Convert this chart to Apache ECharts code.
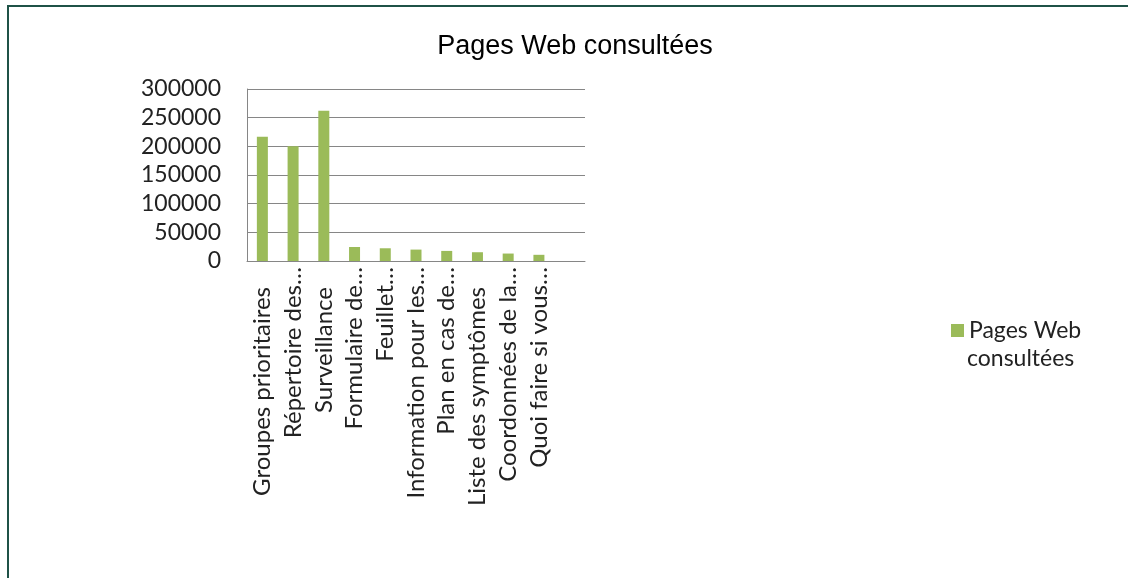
<!DOCTYPE html>
<html>
<head>
<meta charset="utf-8">
<script src="https://cdn.jsdelivr.net/npm/echarts@6/dist/echarts.min.js"></script>
<style>
html,body{margin:0;padding:0;background:#fff;}
#chart{width:1128px;height:578px;}
</style>
</head>
<body>
<div id="chart"></div>
<script>
var title = 'Pages Web consultées';
var seriesName = 'Pages Web consultées';
var legendLines = ['Pages Web', 'consultées'];
var categories = ['Groupes prioritaires', 'Répertoire des…', 'Surveillance', 'Formulaire de…', 'Feuillet…', 'Information pour les…', 'Plan en cas de…', 'Liste des symptômes', 'Coordonnées de la…', 'Quoi faire si vous…', ''];
var values = [216500, 200000, 262000, 24400, 22200, 19900, 17600, 15300, 13000, 10800, null];
var yTicks = {min: 0, max: 300000, interval: 50000};

var categoryItems = categories.map(function (c) {
  var full = c.length > 0 && c.indexOf('…') < 0;
  return full ? {value: c, textStyle: {padding: [0, 20, 0, 0]}} : c;
});

var chart = echarts.init(document.getElementById('chart'), null, {renderer: 'canvas'});
chart.setOption({
  animation: false,
  backgroundColor: '#ffffff',
  title: {
    text: title,
    left: 570, top: 28, textAlign: 'center',
    textStyle: {fontFamily: 'Liberation Sans', fontSize: 27, fontWeight: 'normal', color: '#000'}
  },
  graphic: [
    {type: 'line', shape: {x1: 8, y1: 6, x2: 8, y2: 578}, style: {stroke: '#1f5247', lineWidth: 2}},
    {type: 'line', shape: {x1: 7, y1: 6, x2: 1128, y2: 6}, style: {stroke: '#1f5247', lineWidth: 2}},
    {type: 'text', left: 967, top: 347, style: {text: legendLines[1], font: '23px Lato', fill: '#222'}}
  ],
  legend: {
    left: 946, top: 314, orient: 'vertical',
    itemWidth: 13, itemHeight: 13, icon: 'rect',
    formatter: function () { return legendLines[0]; },
    textStyle: {fontFamily: 'Lato', fontSize: 23, color: '#222', padding: [0,0,0,0]}
  },
  grid: {left: 247, right: 543, top: 89, bottom: 317, containLabel: false},
  xAxis: {
    type: 'category', data: categoryItems,
    axisLine: {show: true, lineStyle: {color: '#868686', width: 1}},
    axisTick: {show: false},
    axisLabel: {rotate: 90, interval: 0, margin: 6, fontFamily: 'Lato', fontSize: 24, color: '#222'}
  },
  yAxis: {
    type: 'value', min: yTicks.min, max: yTicks.max, interval: yTicks.interval,
    axisLine: {show: true, lineStyle: {color: '#868686', width: 1}},
    axisTick: {show: false},
    splitLine: {lineStyle: {color: '#868686', width: 1}},
    axisLabel: {margin: 26, fontFamily: 'Lato', fontSize: 23, color: '#222', formatter: function (v) { return String(v); }}
  },
  series: [{
    name: seriesName, type: 'bar', data: values,
    barWidth: 11,
    itemStyle: {color: '#9bbb59'}
  }]
});
</script>
</body>
</html>
